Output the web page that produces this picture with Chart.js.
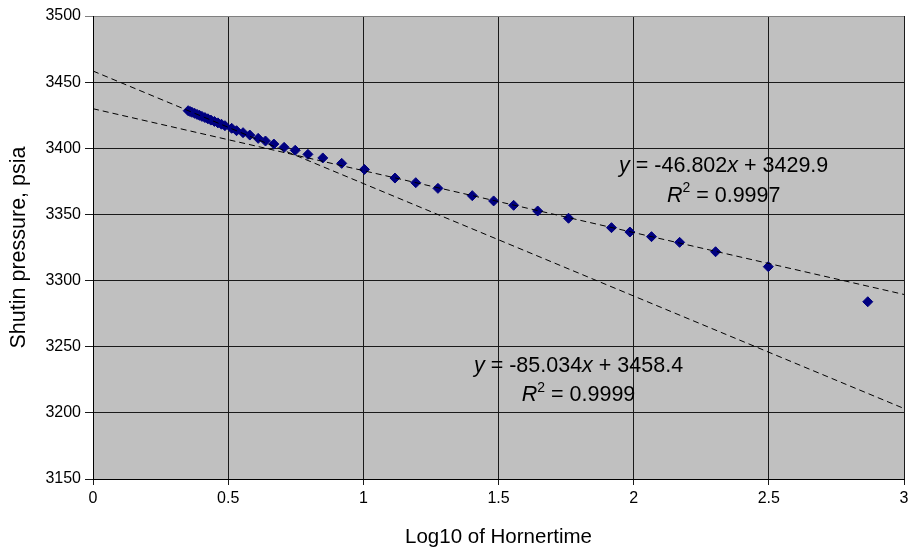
<!DOCTYPE html>
<html>
<head>
<meta charset="utf-8">
<script src="https://cdn.jsdelivr.net/npm/chart.js@4"></script>
<style>
  html,body{margin:0;padding:0;background:#fff;}
  #wrap{width:910px;height:550px;}
</style>
</head>
<body>
<div id="wrap"><canvas id="c"></canvas></div>
<script>
// log10 of horner time vs shutin pressure (psia)
var logHorner = [0.352,0.359,0.366,0.376,0.385,0.394,0.403,0.414,0.425,0.436,0.449,0.462,0.475,
  0.488,0.513,0.531,0.555,0.580,0.611,0.638,0.669,0.707,0.748,0.795,0.850,0.920,1.004,
  1.117,1.194,1.276,1.403,1.482,1.556,1.645,1.759,1.918,1.986,2.066,2.170,2.303,2.498,2.866];
var pressure = [3428.4,3427.8,3427.2,3426.4,3425.6,3424.9,3424.1,3423.2,3422.3,3421.3,3420.3,3419.2,3418.2,
  3417.1,3415.1,3413.3,3411.8,3410.0,3407.5,3405.5,3403.2,3400.7,3398.5,3395.4,3392.7,3388.6,3384.0,
  3377.5,3374.0,3369.7,3364.2,3360.2,3356.9,3352.6,3347.1,3340.0,3336.7,3333.2,3328.9,3321.8,3310.5,3284.0];

// trendlines as shown in the chart: slope, intercept, r2
var trendSlopes = [-46.802, -85.034];
var trendIntercepts = [3429.9, 3458.4];
var trendR2 = ['0.9997', '0.9999'];
var trendLabelX = [2.333, 1.796];
var trendLabelY = [3381.9, 3231.1];

var xMin = 0, xMax = 3, yMin = 3150, yMax = 3500;

var pts = [];
for (let i = 0; i < logHorner.length; i++) pts.push({x: logHorner[i], y: pressure[i]});

function trendData(k){
  return [{x: xMin, y: trendIntercepts[k] + trendSlopes[k]*xMin},
          {x: xMax, y: trendIntercepts[k] + trendSlopes[k]*xMax}];
}

var FONT = "'Liberation Sans', Arial, sans-serif";

var plotBg = {
  id: 'plotBg',
  beforeDraw: function(chart){
    var a = chart.chartArea, ctx = chart.ctx;
    ctx.save();
    ctx.fillStyle = '#c0c0c0';
    ctx.fillRect(a.left, a.top, a.right - a.left, a.bottom - a.top);
    ctx.restore();
  }
};

function sign(v){ return v < 0 ? '-' + Math.abs(v).toFixed(3) : v.toFixed(3); }

var eqLabels = {
  id: 'eqLabels',
  afterDatasetsDraw: function(chart){
    var ctx = chart.ctx, xs = chart.scales.x, ys = chart.scales.y;
    ctx.save();
    ctx.fillStyle = '#000';
    ctx.textBaseline = 'alphabetic';
    ctx.textAlign = 'left';
    var size = 21.5;
    for (let k = 0; k < trendSlopes.length; k++){
      var cx = xs.getPixelForValue(trendLabelX[k]);
      var by = ys.getPixelForValue(trendLabelY[k]);
      // line 1: y = mx + b
      var parts = [
        ['italic', 'y'], ['normal', ' = ' + sign(trendSlopes[k])], ['italic', 'x'],
        ['normal', ' + ' + trendIntercepts[k].toFixed(1)]
      ];
      var w = 0;
      parts.forEach(function(p){ ctx.font = p[0] + ' ' + size + 'px ' + FONT; w += ctx.measureText(p[1]).width; });
      var px = cx - w/2;
      parts.forEach(function(p){
        ctx.font = p[0] + ' ' + size + 'px ' + FONT;
        ctx.fillText(p[1], px, by);
        px += ctx.measureText(p[1]).width;
      });
      // line 2: R^2 = ...
      var by2 = by + 29.5;
      ctx.font = 'italic ' + size + 'px ' + FONT;
      var wR = ctx.measureText('R').width;
      ctx.font = (size*0.65) + 'px ' + FONT;
      var w2 = ctx.measureText('2').width;
      ctx.font = size + 'px ' + FONT;
      var rest = ' = ' + trendR2[k];
      var wr = ctx.measureText(rest).width;
      px = cx - (wR + w2 + wr)/2;
      ctx.font = 'italic ' + size + 'px ' + FONT;
      ctx.fillText('R', px, by2); px += wR;
      ctx.font = (size*0.65) + 'px ' + FONT;
      ctx.fillText('2', px, by2 - size*0.45); px += w2;
      ctx.font = size + 'px ' + FONT;
      ctx.fillText(rest, px, by2);
    }
    ctx.restore();
  }
};

new Chart(document.getElementById('c'), {
  type: 'scatter',
  data: {
    datasets: [
      {
        label: 'trend late',
        data: trendData(0),
        showLine: true,
        borderColor: '#000',
        borderWidth: 1,
        borderDash: [6, 4],
        pointRadius: 0,
        order: 0
      },
      {
        label: 'trend early',
        data: trendData(1),
        showLine: true,
        borderColor: '#000',
        borderWidth: 1,
        borderDash: [6, 4],
        pointRadius: 0,
        order: 0
      },
      {
        label: 'Shutin pressure',
        data: pts,
        pointStyle: 'rectRot',
        pointRadius: 5,
        pointBackgroundColor: '#000080',
        pointBorderColor: '#000080',
        pointBorderWidth: 1,
        order: 1
      }
    ]
  },
  options: {
    responsive: true,
    maintainAspectRatio: false,
    animation: false,
    layout: {padding: {top: 16, right: 3, left: 0, bottom: 0}},
    plugins: {
      legend: {display: false},
      tooltip: {enabled: false}
    },
    scales: {
      x: {
        type: 'linear',
        min: xMin, max: xMax,
        afterFit: function(s){ s.height = 71; s.paddingRight = 0; s.paddingLeft = 0; },
        ticks: {stepSize: 0.5, color: '#000', padding: 4, maxRotation: 0,
          callback: function(v){ return String(v); },
          font: {family: FONT, size: 16}},
        grid: {color: '#1a1a1a', lineWidth: 1, tickLength: 6},
        border: {color: '#000', width: 1},
        title: {display: true, text: 'Log10 of Hornertime', color: '#000',
          font: {family: FONT, size: 20.5}, padding: {top: 0, bottom: 0}}
      },
      y: {
        type: 'linear',
        min: yMin, max: yMax,
        afterFit: function(s){ s.width = 93; },
        ticks: {stepSize: 50, color: '#000', padding: 4,
          callback: function(v){ return String(v); },
          font: {family: FONT, size: 16}},
        grid: {color: function(c){ return c.tick && c.tick.value === yMax ? '#808080' : '#1a1a1a'; },
          lineWidth: 1, tickLength: 8},
        border: {color: '#000', width: 1},
        title: {display: true, text: 'Shutin pressure, psia', color: '#000',
          font: {family: FONT, size: 21.5}, padding: {top: 6, bottom: 0}}
      }
    }
  },
  plugins: [plotBg, eqLabels]
});
</script>
</body>
</html>
